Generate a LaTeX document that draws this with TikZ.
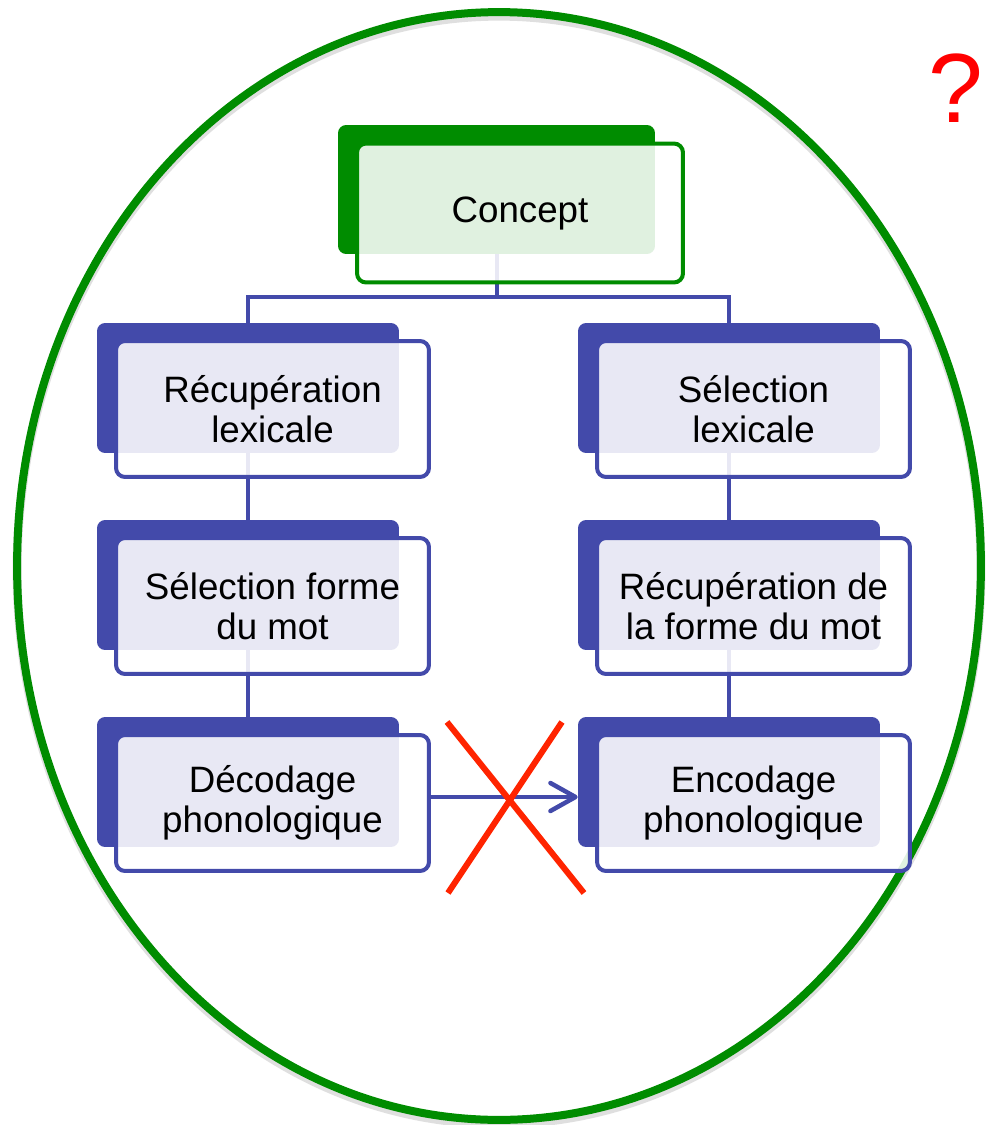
\documentclass[tikz,border=0pt]{standalone}
\usepackage{fontspec}
\setmainfont{Liberation Sans}
\usetikzlibrary{arrows.meta}
\definecolor{boxblue}{RGB}{67,74,170}
\definecolor{boxgreen}{RGB}{0,140,0}
\definecolor{crossred}{RGB}{255,36,0}

\begin{document}
\begin{tikzpicture}
    [
        x=0.02cm, y=-0.02cm,
        back/.style = {shape=rectangle, fill=boxblue, rounded corners=0.16cm, minimum width=6.04cm, minimum height=2.6cm, inner sep=0pt},
        front/.style = {draw=boxblue, fill=white, fill opacity=0.88, text opacity=1, line width=0.08cm, rounded corners=0.18cm, minimum width=6.26cm, minimum height=2.72cm, inner sep=0pt, align=center, font=\fontsize{20.9}{22.7}\selectfont},
        cback/.style = {back, fill=boxgreen, minimum width=6.34cm, minimum height=2.58cm},
        cfront/.style = {front, draw=boxgreen, minimum width=6.52cm, minimum height=2.78cm},
        link/.style = {draw=boxblue, line width=0.08cm},
        arrow/.style = {draw=boxblue, line width=0.09cm, -{Straight Barb[length=0.5cm, width=0.56cm, round]}},
        cross/.style = {draw=crossred, line width=0.12cm},
        ring/.style = {draw=boxgreen, line width=0.16cm},
    ]

    \useasboundingbox (0,0) rectangle (985,1125);

    % outer ring with its shadow
    \draw[black!25, line width=0.18cm, opacity=0.5] (499,570) ellipse [x radius=9.64cm, y radius=11.08cm];
    \draw[ring] (499,566) ellipse [x radius=9.64cm, y radius=11.08cm];

    % back plates
    \node[cback] (conceptb) at (496.5,189.5) {};
    \node[back] (recupb) at (248,388) {};
    \node[back] (selfb)  at (248,585) {};
    \node[back] (decb)   at (248,782) {};
    \node[back] (selb)   at (729,388) {};
    \node[back] (recfb)  at (729,585) {};
    \node[back] (encb)   at (729,782) {};

    % tree links
    \draw[link] (conceptb.south) -- ++(0,43) coordinate (split);
    \draw[link] (recupb.north) |- (split) -| (selb.north);
    \draw[link] (recupb.south) -- (selfb.north);
    \draw[link] (selfb.south) -- (decb.north);
    \draw[link] (selb.south) -- (recfb.north);
    \draw[link] (recfb.south) -- (encb.north);

    % front boxes
    \node[cfront] (concept) at (520,213) {Concept};
    \node[front] (recup) at (272.5,409) {Récupération\\lexicale};
    \node[front] (self)  at (272.5,606) {Sélection forme\\du mot};
    \node[front] (dec)   at (272.5,803) {Décodage\\phonologique};
    \node[front] (sel)   at (753.5,409) {Sélection\\lexicale};
    \node[front] (recf)  at (753.5,606) {Récupération de\\la forme du mot};
    \node[front] (enc)   at (753.5,803) {Encodage\\phonologique};

    % crossed-out link
    \coordinate (gap) at ([yshift=0.12cm]dec.east);
    \draw[arrow] (gap) -- (gap -| encb.west);
    \draw[cross] (447,722) -- (584,893);
    \draw[cross] (562,722) -- (448,893);

    \node[text=red, font=\fontsize{56}{56}\selectfont, anchor=base west, inner sep=0pt] (qmark) at (928,123) {?};

\end{tikzpicture}
\end{document}
